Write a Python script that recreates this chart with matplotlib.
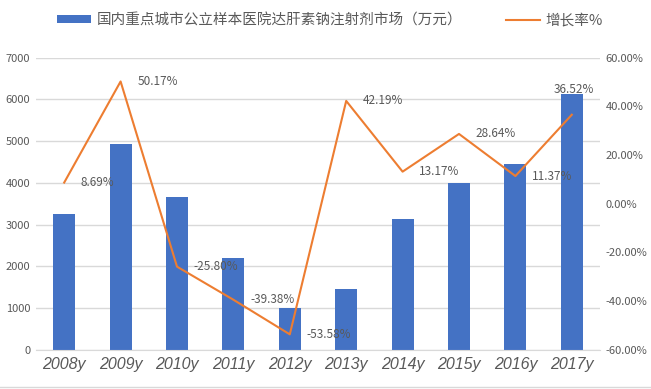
import matplotlib
matplotlib.use("Agg")
import matplotlib.pyplot as plt
from matplotlib.ticker import FuncFormatter

plt.rcParams["font.family"] = ["Noto Sans CJK SC", "DejaVu Sans"]

years = ["2008y", "2009y", "2010y", "2011y", "2012y",
         "2013y", "2014y", "2015y", "2016y", "2017y"]
market = [3260, 4920, 3650, 2200, 1000, 1450, 3130, 4000, 4460, 6120]
growth = [8.69, 50.17, -25.80, -39.38, -53.58, 42.19, 13.17, 28.64, 11.37, 36.52]
bar_label = "国内重点城市公立样本医院达肝素钠注射剂市场（万元）"
line_label = "增长率%"

BAR_COLOR = "#4472C4"
LINE_COLOR = "#ED7D31"
TEXT_COLOR = "#595959"
GRID_COLOR = "#D9D9D9"

# data label offsets in points: most sit to the right, last one above-left
label_offsets = [(12, 0)] * 9 + [(-13, 18)]

fig = plt.figure(figsize=(6.51, 3.89), dpi=100)
ax = fig.add_axes([36 / 651, 1 - 350 / 389, 564 / 651, 292.5 / 389])
ax2 = ax.twinx()

x = list(range(len(years)))
ax.bar(x, market, width=0.39, color=BAR_COLOR, zorder=2, label=bar_label)
ax2.plot(x, growth, color=LINE_COLOR, lw=1.5, zorder=3, label=line_label)

ax.set_xlim(-0.5, 9.5)
ax.set_ylim(0, 7000)
ax.set_yticks(range(0, 7001, 1000))
ax2.set_ylim(-60, 60)
ax2.set_yticks(range(-60, 61, 20))
ax2.yaxis.set_major_formatter(FuncFormatter(lambda v, p: f"{v:.2f}%"))

ax.grid(axis="y", color=GRID_COLOR, lw=1, zorder=0)
ax.set_axisbelow(True)
for a in (ax, ax2):
    for s in a.spines.values():
        s.set_visible(False)
    a.tick_params(length=0, colors=TEXT_COLOR, labelsize=8)
ax.spines["bottom"].set_visible(True)
ax.spines["bottom"].set_color(GRID_COLOR)
ax.tick_params(axis="y", pad=4)
ax2.tick_params(axis="y", pad=4)

ax.set_xticks(x)
ax.set_xticklabels(years, fontsize=11.5, style="italic",
                   family=["Liberation Sans", "DejaVu Sans"])
ax.tick_params(axis="x", pad=5)

for xi, g, (dx, dy) in zip(x, growth, label_offsets):
    ax2.annotate(f"{g:.2f}%", (xi, g), xytext=(dx, dy),
                 textcoords="offset points", ha="left", va="center",
                 fontsize=8.5, color=TEXT_COLOR, zorder=4)

h1, l1 = ax.get_legend_handles_labels()
h2, l2 = ax2.get_legend_handles_labels()
fig.legend(h1 + h2, l1 + l2, loc="upper center", bbox_to_anchor=(0.507, 1.0),
           ncol=2, frameon=False, fontsize=10.5, labelcolor=TEXT_COLOR,
           handlelength=2.3, handleheight=0.5, columnspacing=3.0,
           handletextpad=0.4)

fig.add_artist(plt.Line2D([0, 1], [0.006, 0.006], color=GRID_COLOR, lw=1))

fig.savefig("out.png", dpi=100, facecolor="white")
